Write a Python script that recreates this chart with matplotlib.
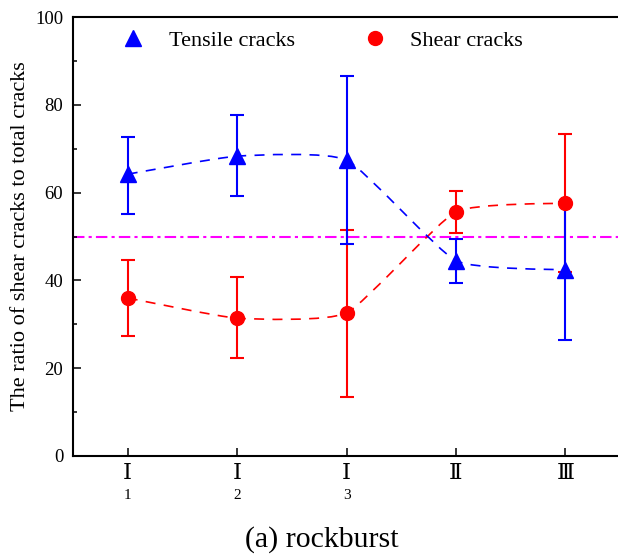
import numpy as np
import matplotlib
matplotlib.use("Agg")
import matplotlib.pyplot as plt
from matplotlib.path import Path
from matplotlib.patches import PathPatch
from matplotlib.lines import Line2D

plt.rcParams['font.family'] = ['Liberation Serif', 'DejaVu Serif']

# categories (roman numeral + subscript)
cats = ['Ⅰ', 'Ⅰ', 'Ⅰ', 'Ⅱ', 'Ⅲ']
subs = ['1', '2', '3', '', '']

# percent of cracks, with upper / lower error bar ends
tensile = [64.2, 68.3, 67.4, 44.5, 42.4]
tensile_hi = [72.7, 77.7, 86.6, 49.4, 57.9]
tensile_lo = [55.1, 59.2, 48.3, 39.4, 26.5]

shear = [36.0, 31.4, 32.6, 55.6, 57.6]
shear_hi = [44.6, 40.8, 51.5, 60.4, 73.3]
shear_lo = [27.3, 22.3, 13.4, 50.8, 41.9]

ref_level = 50

x = np.arange(1, len(cats) + 1)


def smooth_path(xs, ys, k=0.5):
    # cardinal spline through the points (k scales the tangents), as bezier pieces
    pts = np.column_stack([xs, ys]).astype(float)
    ext = np.vstack([pts[0], pts, pts[-1]])
    verts = [pts[0]]
    codes = [Path.MOVETO]
    for i in range(len(pts) - 1):
        p0, p1, p2, p3 = ext[i], ext[i + 1], ext[i + 2], ext[i + 3]
        c1 = p1 + k * (p2 - p0) / 6.0
        c2 = p2 - k * (p3 - p1) / 6.0
        verts += [c1, c2, p2]
        codes += [Path.CURVE4] * 3
    return Path(verts, codes)


fig = plt.figure(figsize=(6.18, 5.56), dpi=100)
ax = fig.add_axes([73 / 618, 1 - 456 / 556, (620 - 73) / 618, (456 - 17) / 556])

ax.axhline(ref_level, color='#FF00FF', lw=1.5, ls=(0, (5.5, 2, 1.5, 2)), zorder=1)

for vals, hi, lo, col, mk, ms in [(shear, shear_hi, shear_lo, '#FF0000', 'o', 10),
                                  (tensile, tensile_hi, tensile_lo, '#0000FF', '^', 11)]:
    vals = np.array(vals)
    err = [vals - np.array(lo), np.array(hi) - vals]
    ax.add_patch(PathPatch(smooth_path(x, vals), fill=False, edgecolor=col,
                           lw=1.2, ls=(0, (6, 5)), zorder=2))
    ax.errorbar(x, vals, yerr=err, fmt=mk, color=col, ms=ms, ecolor=col,
                elinewidth=1.5, capsize=4.7, capthick=1.5, zorder=3)

ax.set_xlim(0.5, 5.5)
ax.set_ylim(0, 100)
ax.set_xticks(x)
ax.set_xticklabels(cats)
ax.set_yticks(np.arange(0, 101, 20))
ax.set_yticks(np.arange(10, 100, 20), minor=True)
ax.tick_params(axis='both', which='major', direction='in', length=6, width=1.1)
ax.tick_params(axis='x', pad=5, labelsize=16.5)
ax.tick_params(axis='y', pad=7, labelsize=13.5)
ax.tick_params(axis='y', which='minor', direction='in', length=3, width=1.1)
for s in ax.spines.values():
    s.set_linewidth(1.5)

for xi, s in zip(x, subs):
    if s:
        ax.text(xi, -0.09, s, transform=ax.get_xaxis_transform(),
                ha='center', va='center', fontsize=11)

ax.set_ylabel('The ratio of shear cracks to total cracks', fontsize=16, labelpad=4)

handles = [Line2D([], [], ls='none', marker='^', color='#0000FF', ms=11),
           Line2D([], [], ls='none', marker='o', color='#FF0000', ms=10)]
ax.legend(handles, ['Tensile cracks', 'Shear cracks'], ncol=2, frameon=False,
          loc='upper left', bbox_to_anchor=(0.049, 1.015), fontsize=16,
          handlelength=1.2, handletextpad=1.0, columnspacing=3.0)

fig.text(322 / 618, 1 - 540 / 556, '(a) rockburst', ha='center', va='center',
         fontsize=21.5)

fig.savefig('out.png', dpi=100)
